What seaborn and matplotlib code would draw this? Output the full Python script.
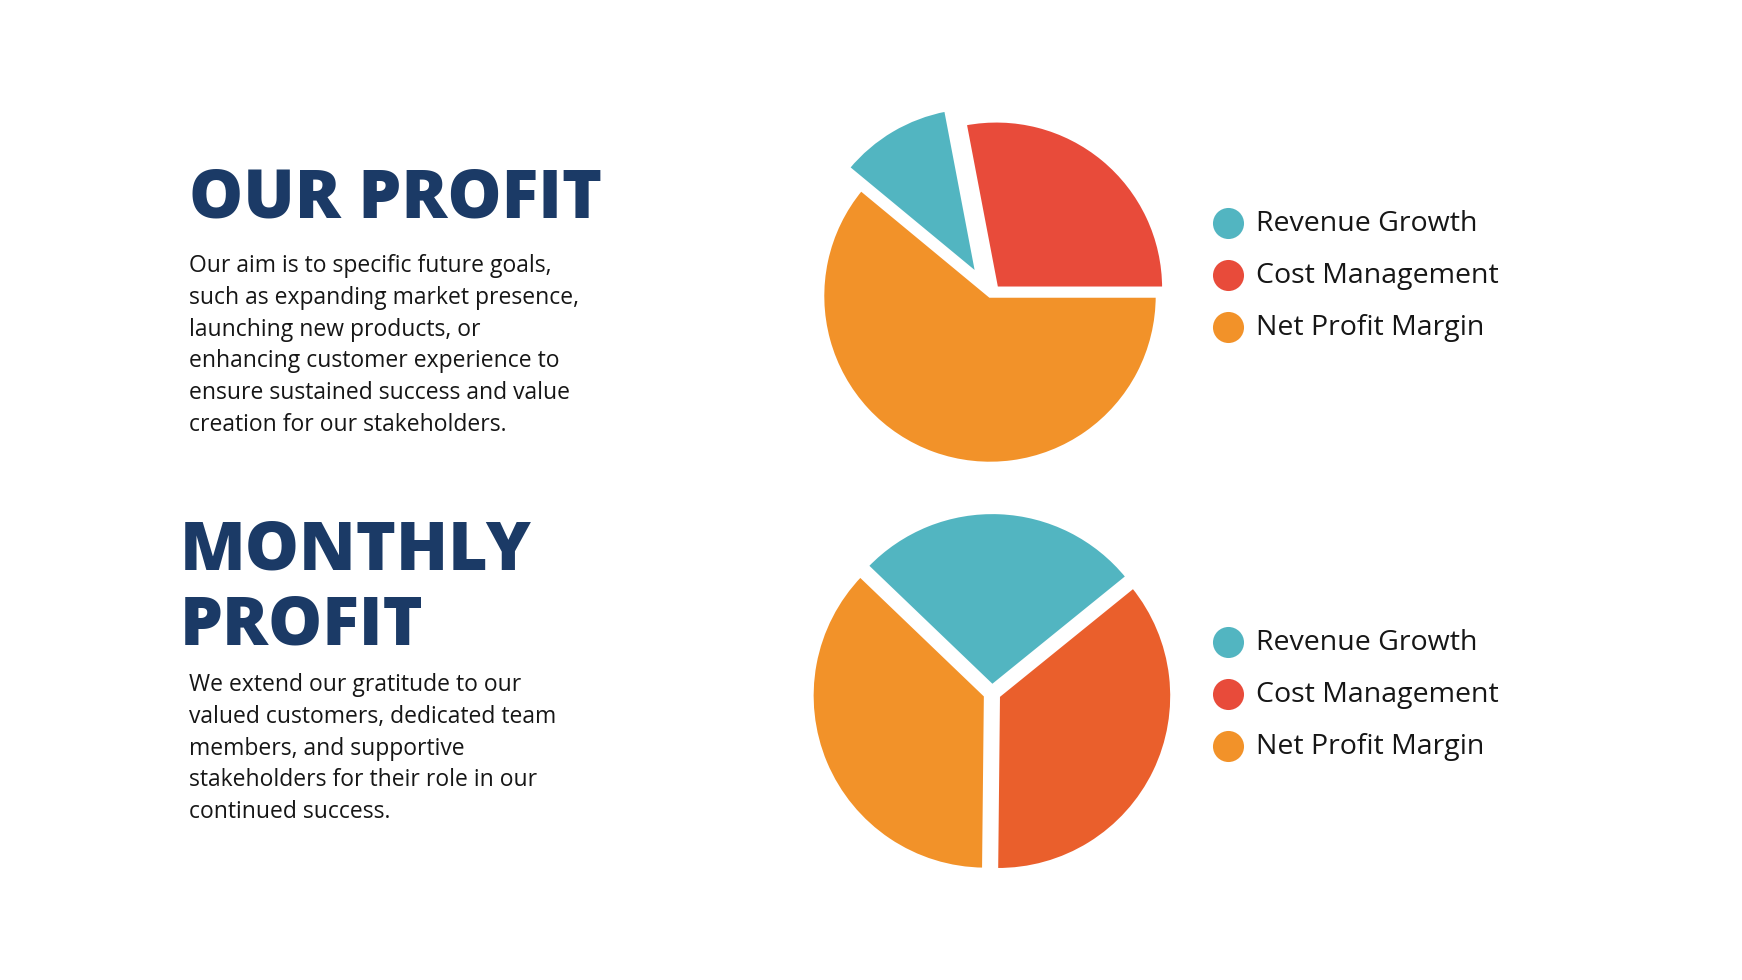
import matplotlib
matplotlib.use("Agg")
import matplotlib.pyplot as plt
import seaborn as sns

# ---------------- data ----------------
categories = ["Revenue Growth", "Cost Management", "Net Profit Margin"]
our_profit_values = [11, 28, 61]        # % share (top pie)
monthly_profit_values = [27, 36, 37]    # % share (bottom pie)

title_top = "OUR PROFIT"
title_bottom = ["MONTHLY", "PROFIT"]
body_top = [
    "Our aim is to specific future goals,",
    "such as expanding market presence,",
    "launching new products, or",
    "enhancing customer experience to",
    "ensure sustained success and value",
    "creation for our stakeholders.",
]
body_bottom = [
    "We extend our gratitude to our",
    "valued customers, dedicated team",
    "members, and supportive",
    "stakeholders for their role in our",
    "continued success.",
]

# ---------------- style ----------------
sns.set_theme(style="white")
plt.rcParams["font.family"] = ["Open Sans", "DejaVu Sans"]

TEAL = "#52B5C1"
RED = "#E84B3A"
RED2 = "#EA5F2C"
ORANGE = "#F29229"
NAVY = "#1B3A66"
TEXT = "#161616"

W, H = 1742, 980
fig = plt.figure(figsize=(W / 100, H / 100), dpi=100)
fig.patch.set_facecolor("white")

ax0 = fig.add_axes([0, 0, 1, 1])
ax0.set_xlim(0, W)
ax0.set_ylim(H, 0)
ax0.axis("off")

# ---------------- left texts ----------------
ax0.text(189, 217, title_top, fontsize=49, fontweight="heavy", color=NAVY,
         va="baseline", ha="left")
for i, line in enumerate(body_top):
    ax0.text(189, 272 + i * 31.8, line, fontsize=16.5, color=TEXT,
             va="baseline", ha="left")

ax0.text(180, 569, title_bottom[0], fontsize=49, fontweight="heavy", color=NAVY,
         va="baseline", ha="left")
ax0.text(180, 644, title_bottom[1], fontsize=49, fontweight="heavy", color=NAVY,
         va="baseline", ha="left")
for i, line in enumerate(body_bottom):
    ax0.text(189, 691 + i * 31.8, line, fontsize=16.5, color=TEXT,
             va="baseline", ha="left")

# ---------------- legends ----------------
legend_colors = [TEAL, RED, ORANGE]
for ys in ([223, 275, 327], [642, 694, 746]):
    for y, lab, col in zip(ys, categories, legend_colors):
        ax0.scatter([1228], [y], s=500, color=col, linewidths=0, zorder=3)
        ax0.text(1256, y + 1, lab, fontsize=20.5, color=TEXT, va="center",
                 ha="left")


# ---------------- pies ----------------
def pie_axes(cx, cy, r, lim=1.3):
    size = 2 * lim * r
    ax = fig.add_axes([(cx - size / 2) / W, 1 - (cy + size / 2) / H,
                       size / W, size / H])
    ax.set_xlim(-lim, lim)
    ax.set_ylim(-lim, lim)
    ax.set_aspect("equal")
    ax.axis("off")
    ax.patch.set_alpha(0)
    return ax


# top pie: order Cost, Revenue, Net counter-clockwise from 0 deg
ax1 = pie_axes(990, 296, 161)
vals1 = [our_profit_values[1], our_profit_values[0], our_profit_values[2]]
ax1.pie(vals1, colors=[RED, TEAL, ORANGE], startangle=0, counterclock=True,
        explode=[0.06, 0.15, 0.0],
        wedgeprops=dict(edgecolor="white", linewidth=2.5))

# bottom pie: order Revenue, Net, Cost counter-clockwise from 39 deg
ax2 = pie_axes(992, 693, 167)
vals2 = [monthly_profit_values[0], monthly_profit_values[2],
         monthly_profit_values[1]]
ax2.pie(vals2, colors=[TEAL, ORANGE, RED2], startangle=39, counterclock=True,
        explode=[0.04, 0.04, 0.04],
        wedgeprops=dict(edgecolor="white", linewidth=2.5))

fig.savefig("out.png", dpi=100, facecolor="white")
